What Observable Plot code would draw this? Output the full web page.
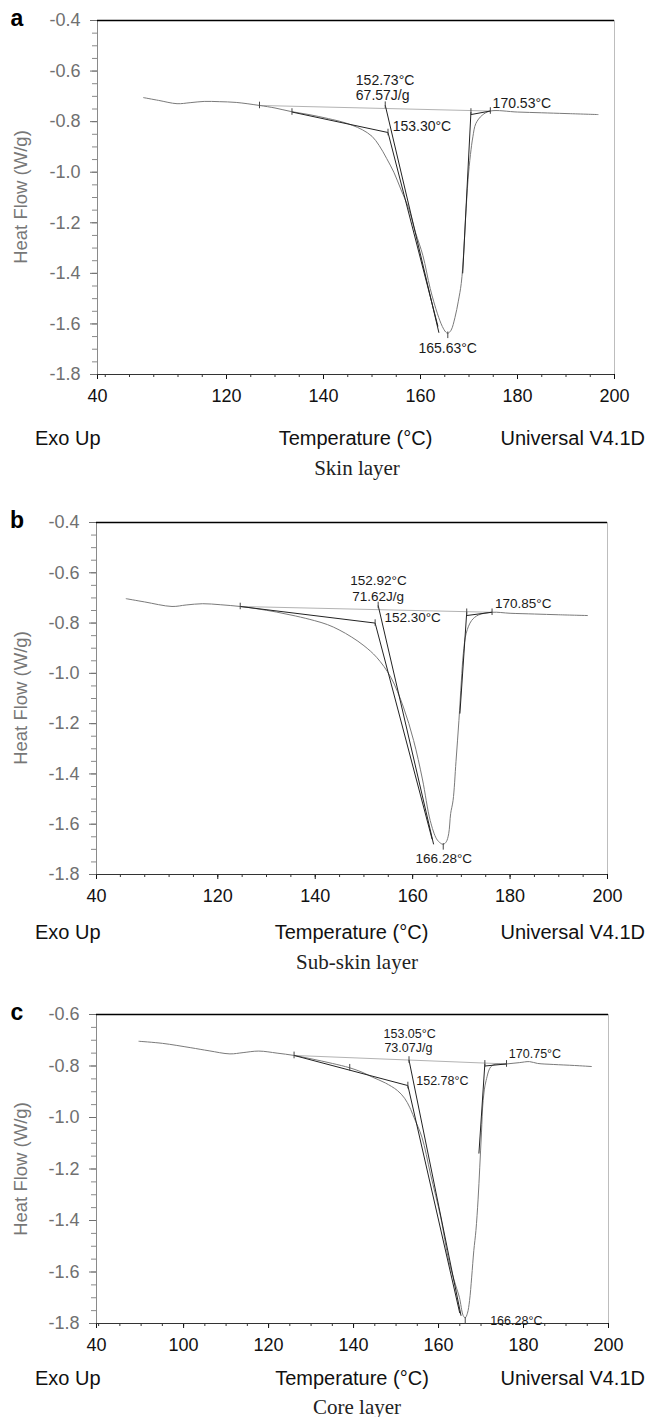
<!DOCTYPE html>
<html><head><meta charset="utf-8">
<script src="https://cdn.jsdelivr.net/npm/d3@7"></script>
<script src="https://cdn.jsdelivr.net/npm/@observablehq/plot@0.6"></script>
<style>
body{margin:0;background:#fff;}
#wrap{position:relative;width:648px;height:1417px;overflow:hidden;font-family:"Liberation Sans",Arial,sans-serif;}
.abs{position:absolute;white-space:nowrap;line-height:1;}
#wrap svg{position:absolute;left:0;background:transparent;}
</style></head><body><div id="wrap"></div>
<script>
// ---------- axis ticks / labels ----------
const yTicksAB = [-1.8,-1.6,-1.4,-1.2,-1.0,-0.8,-0.6,-0.4];
const yTicksC  = [-1.8,-1.6,-1.4,-1.2,-1.0,-0.8,-0.6];
const xTicksA = [93.4,120,140,160,180,200];
const xTicksB = [95.1,120,140,160,180,200];
const xTicksC = [79.5,100,120,140,160,180,200];
const xLabelsAB = ["40","120","140","160","180","200"];
const xLabelsC  = ["40","100","120","140","160","180","200"];

// ---------- panel a : Skin layer ----------
const aTemp = [102.9,106,109.8,112.5,115.4,118.5,122,126.8,130,133.3,137,141,144,146,148,150,151.5,153,154.5,156,157.5,159,160.5,162,163.5,164.5,165.2,165.63,166.3,167.1,167.8,168.4,168.9,169.3,169.8,170.3,170.8,171.4,172.7,174.4,180,185,190,196.6];
const aHeat = [-0.705,-0.716,-0.729,-0.725,-0.720,-0.721,-0.724,-0.736,-0.746,-0.760,-0.772,-0.788,-0.802,-0.815,-0.832,-0.858,-0.895,-0.945,-1.000,-1.07,-1.14,-1.24,-1.33,-1.46,-1.56,-1.61,-1.632,-1.637,-1.625,-1.575,-1.51,-1.44,-1.32,-1.18,-1.03,-0.93,-0.86,-0.808,-0.775,-0.758,-0.762,-0.765,-0.768,-0.772];
const aBaseline = [{T:126.8,v:-0.736},{T:174.4,v:-0.758}];
const aSegments = [
  {T1:133.5,v1:-0.762,T2:153.3,v2:-0.843},
  {T1:152.73,v1:-0.735,T2:163.8,v2:-1.635},
  {T1:153.3,v1:-0.843,T2:163.6,v2:-1.61},
  {T1:170.4,v1:-0.762,T2:168.7,v2:-1.40},
  {T1:170.4,v1:-0.772,T2:174.4,v2:-0.758}
];
const aMarkers = [{T:126.8,v:-0.736},{T:133.5,v:-0.762},{T:152.73,v:-0.735},{T:153.3,v:-0.843},{T:170.4,v:-0.762},{T:174.4,v:-0.758},{T:165.63,v:-1.645}];
const aLabels = [
  {T:152.7,v:-0.637,text:"152.73°C"},
  {T:152.2,v:-0.696,text:"67.57J/g"},
  {T:160.3,v:-0.819,text:"153.30°C"},
  {T:180.9,v:-0.728,text:"170.53°C"},
  {T:165.6,v:-1.696,text:"165.63°C"}
];

// ---------- panel b : Sub-skin layer ----------
const bTemp = [101.2,105,110.6,113.5,116.9,120.5,124.6,128,132,136,139.8,142.5,144.9,147.5,150,152.6,155.5,158.1,160.2,162,163.6,164.9,165.7,166.28,166.9,167.4,167.8,168.3,168.9,169.5,170,170.4,171,172.1,173.5,176.3,180,185,190,195.9];
const bHeat = [-0.703,-0.716,-0.734,-0.728,-0.723,-0.727,-0.734,-0.743,-0.756,-0.772,-0.790,-0.806,-0.827,-0.856,-0.89,-0.936,-1.015,-1.134,-1.267,-1.42,-1.585,-1.658,-1.675,-1.68,-1.67,-1.638,-1.558,-1.505,-1.35,-1.187,-1.03,-0.922,-0.84,-0.79,-0.768,-0.757,-0.761,-0.764,-0.767,-0.770];
const bBaseline = [{T:124.6,v:-0.734},{T:176.3,v:-0.757}];
const bSegments = [
  {T1:124.6,v1:-0.734,T2:152.3,v2:-0.80},
  {T1:152.92,v1:-0.730,T2:164.3,v2:-1.68},
  {T1:152.3,v1:-0.80,T2:164.0,v2:-1.66},
  {T1:171.1,v1:-0.757,T2:169.7,v2:-1.16},
  {T1:171.1,v1:-0.770,T2:176.3,v2:-0.757}
];
const bMarkers = [{T:124.6,v:-0.734},{T:152.92,v:-0.730},{T:152.3,v:-0.80},{T:171.1,v:-0.757},{T:176.3,v:-0.757},{T:166.28,v:-1.69}];
const bLabels = [
  {T:153.0,v:-0.631,text:"152.92°C"},
  {T:152.9,v:-0.694,text:"71.62J/g"},
  {T:160.0,v:-0.777,text:"152.30°C"},
  {T:182.7,v:-0.723,text:"170.85°C"},
  {T:166.4,v:-1.736,text:"166.28°C"}
];

// ---------- panel c : Core layer ----------
const cTemp = [89.5,95,101.7,106,110.9,114,117.7,122,126,130,135,139.1,142,144.4,147.5,150.3,152,153.2,154.2,156.1,158.1,160.5,162.4,164,164.9,165.8,166.28,166.8,167.3,167.8,168.3,168.8,169.3,169.7,170.1,170.5,171.2,172.6,176,179,181.4,183.3,187,192,196];
const cHeat = [-0.704,-0.712,-0.729,-0.741,-0.753,-0.748,-0.742,-0.750,-0.759,-0.772,-0.790,-0.807,-0.824,-0.843,-0.866,-0.895,-0.925,-0.96,-0.999,-1.077,-1.219,-1.387,-1.555,-1.65,-1.698,-1.769,-1.778,-1.76,-1.711,-1.62,-1.517,-1.439,-1.32,-1.193,-1.06,-0.934,-0.856,-0.798,-0.792,-0.787,-0.783,-0.790,-0.794,-0.798,-0.802];
const cBaseline = [{T:126.0,v:-0.759},{T:176.0,v:-0.792}];
const cSegments = [
  {T1:126.0,v1:-0.759,T2:152.78,v2:-0.876},
  {T1:153.05,v1:-0.777,T2:165.3,v2:-1.77},
  {T1:152.78,v1:-0.876,T2:165.0,v2:-1.76},
  {T1:170.9,v1:-0.792,T2:169.5,v2:-1.14},
  {T1:170.9,v1:-0.800,T2:176.0,v2:-0.792}
];
const cMarkers = [{T:126.0,v:-0.759},{T:139.1,v:-0.807},{T:152.78,v:-0.876},{T:153.05,v:-0.777},{T:170.9,v:-0.792},{T:176.0,v:-0.792},{T:166.28,v:-1.79}];
const cLabels = [
  {T:153.2,v:-0.675,text:"153.05°C"},
  {T:152.9,v:-0.729,text:"73.07J/g"},
  {T:160.9,v:-0.859,text:"152.78°C"},
  {T:182.7,v:-0.755,text:"170.75°C"},
  {T:178.3,v:-1.791,text:"166.28°C"}
];

const panels = [
  {letter:"a", caption:"Skin layer", T:aTemp, H:aHeat, base:aBaseline, seg:aSegments, mk:aMarkers, lab:aLabels,
   xTicks:xTicksA, xLabels:xLabelsAB, yTicks:yTicksAB,
   top:20, bottom:374, left:97, right:614, exoY:438, capY:468, labSize:14},
  {letter:"b", caption:"Sub-skin layer", T:bTemp, H:bHeat, base:bBaseline, seg:bSegments, mk:bMarkers, lab:bLabels,
   xTicks:xTicksB, xLabels:xLabelsAB, yTicks:yTicksAB,
   top:522, bottom:874, left:96, right:607, exoY:932, capY:962, labSize:13.5},
  {letter:"c", caption:"Core layer", T:cTemp, H:cHeat, base:cBaseline, seg:cSegments, mk:cMarkers, lab:cLabels,
   xTicks:xTicksC, xLabels:xLabelsC, yTicks:yTicksC,
   top:1014, bottom:1323, left:96, right:608, exoY:1378, capY:1407, labSize:12.5}
];

const wrap = document.getElementById("wrap");
function addText(str, css) {
  const d = document.createElement("div");
  d.className = "abs";
  d.textContent = str;
  Object.assign(d.style, css);
  wrap.appendChild(d);
  return d;
}

for (const p of panels) {
  const curve = p.T.map((t, i) => ({T: t, v: p.H[i]}));
  const xmin = p.xTicks[0], xmax = p.xTicks[p.xTicks.length - 1];
  const ymin = p.yTicks[0], ymax = p.yTicks[p.yTicks.length - 1];
  const labMap = new Map(p.xTicks.map((t, i) => [t, p.xLabels[i]]));
  const xMinor = d3.range(Math.ceil(xmin / 5) * 5, xmax + 0.1, 5);
  const yMinor = d3.range(0, Math.round((ymax - ymin) / 0.05) + 1).map(k => ymin + k * 0.05);
  const svgTop = p.top - 20;
  const mb = 40;
  const height = p.bottom - svgTop + mb;

  const chart = Plot.plot({
    width: 648, height,
    marginTop: 20, marginBottom: mb, marginLeft: p.left, marginRight: 648 - p.right,
    style: {fontFamily: "'Liberation Sans', Arial, sans-serif", background: "transparent", overflow: "visible"},
    x: {domain: [xmin, xmax]},
    y: {domain: [ymin, ymax]},
    marks: [
      Plot.axisY(yMinor, {tickSize: 5, text: null, color: "#8a8a8a", label: null}),
      Plot.axisY(p.yTicks, {tickSize: 7, tickPadding: 10, tickFormat: d => d.toFixed(1), fontSize: 18, color: "#707070", label: null}),
      Plot.axisX(xMinor, {tickSize: 3, text: null, color: "#333", label: null}),
      Plot.axisX(p.xTicks, {tickSize: 5, tickPadding: 10, tickFormat: d => labMap.get(d), fontSize: 18, color: "#111", label: null}),
      Plot.ruleX([xmin], {stroke: "#8a8a8a"}),
      Plot.ruleX([xmax], {stroke: "#bdbdbd"}),
      Plot.ruleY([ymax], {stroke: "#000", strokeWidth: 1.5}),
      Plot.ruleY([ymin], {stroke: "#333"}),
      Plot.line(p.base, {x: "T", y: "v", stroke: "#b3b3b3", strokeWidth: 1}),
      Plot.line(curve, {x: "T", y: "v", stroke: "#7a7a7a", strokeWidth: 1, curve: "catmull-rom"}),
      Plot.link(p.seg, {x1: "T1", y1: "v1", x2: "T2", y2: "v2", stroke: "#222", strokeWidth: 1}),
      Plot.ruleX(p.mk, {x: "T", y1: d => d.v + 0.013, y2: d => d.v - 0.013, stroke: "#444", strokeWidth: 1}),
      Plot.text(p.lab, {x: "T", y: "v", text: "text", fontSize: p.labSize, fill: "#1a1a1a"})
    ]
  });
  chart.style.top = svgTop + "px";
  wrap.appendChild(chart);

  const cx = (p.left + p.right) / 2;
  const cy = (p.top + p.bottom) / 2;
  addText(p.letter, {left: "17px", top: p.top + "px", transform: "translate(-50%,-55%)", fontWeight: "bold", fontSize: "23px", color: "#000"});
  addText("Heat Flow (W/g)", {left: "21px", top: cy + "px", transform: "translate(-50%,-50%) rotate(-90deg)", fontSize: "18.5px", color: "#777"});
  addText("Exo Up", {left: "35px", top: p.exoY + "px", transform: "translateY(-50%)", fontSize: "20px", color: "#111"});
  addText("Temperature (°C)", {left: cx + "px", top: p.exoY + "px", transform: "translate(-50%,-50%)", fontSize: "20px", color: "#111"});
  addText("Universal V4.1D", {right: "3px", top: p.exoY + "px", transform: "translateY(-50%)", fontSize: "20px", color: "#111"});
  addText(p.caption, {left: "357px", top: p.capY + "px", transform: "translate(-50%,-50%)", fontSize: "21px", color: "#222", fontFamily: "'Liberation Serif', 'Times New Roman', serif"});
}
</script></body></html>
